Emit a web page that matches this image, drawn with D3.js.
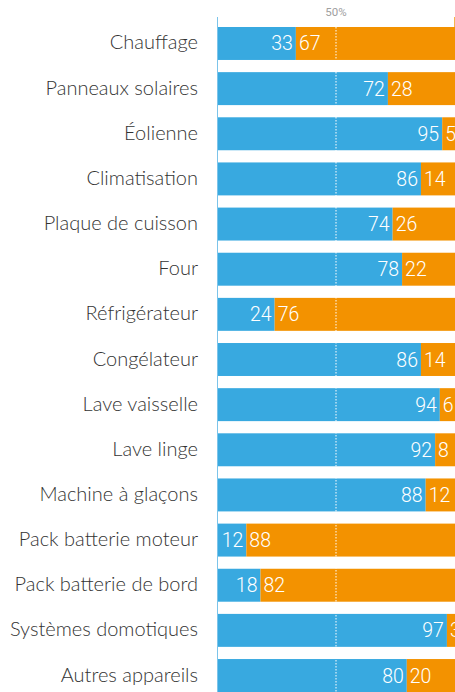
<!DOCTYPE html>
<html>
<head>
<meta charset="utf-8">
<script src="https://cdn.jsdelivr.net/npm/d3@7"></script>
<style>
  body { margin: 0; background: #fff; }
  svg { display: block; }
  .cat { font-family: "Lato Light", "Lato", sans-serif; font-weight: 300; }
  .val { font-family: "Roboto Light", "Roboto", sans-serif; font-weight: 300; }
</style>
</head>
<body>
<svg id="chart"></svg>
<script>
var categories = ["Chauffage", "Panneaux solaires", "Éolienne", "Climatisation", "Plaque de cuisson",
  "Four", "Réfrigérateur", "Congélateur", "Lave vaisselle", "Lave linge", "Machine à glaçons",
  "Pack batterie moteur", "Pack batterie de bord", "Systèmes domotiques", "Autres appareils"];
var blueValues = [33, 72, 95, 86, 74, 78, 24, 86, 94, 92, 88, 12, 18, 97, 80];
var orangeValues = [67, 28, 5, 14, 26, 22, 76, 14, 6, 8, 12, 88, 82, 3, 20];

var width = 455, height = 692;
var plotLeft = 218, plotRight = 454, plotTop = 27;

var svg = d3.select("#chart")
    .attr("width", width)
    .attr("height", height);

var x = d3.scaleLinear()
    .domain([0, 100])
    .range([plotLeft, plotRight]);

var y = d3.scaleBand()
    .domain(categories)
    .range([plotTop, height])
    .paddingInner(0.27)
    .paddingOuter(0);

var rows = svg.selectAll(".row")
    .data(categories)
  .enter().append("g")
    .attr("class", "row");

rows.append("rect")
    .attr("x", x(0))
    .attr("y", d => y(d))
    .attr("width", (d, i) => x(blueValues[i]) - x(0))
    .attr("height", y.bandwidth())
    .attr("fill", "#38a9e0");

rows.append("rect")
    .attr("x", (d, i) => x(blueValues[i]))
    .attr("y", d => y(d))
    .attr("width", (d, i) => x(100) - x(blueValues[i]) + 1)
    .attr("height", y.bandwidth())
    .attr("fill", "#f39200");

// 50% reference line
svg.append("line")
    .attr("x1", x(50)).attr("x2", x(50))
    .attr("y1", plotTop).attr("y2", height)
    .attr("stroke", "#fff")
    .attr("stroke-width", 1)
    .attr("stroke-dasharray", "1.5,1.5");

svg.append("text")
    .attr("x", x(50))
    .attr("y", 16)
    .attr("text-anchor", "middle")
    .attr("font-family", "Roboto")
    .attr("font-size", 11.5)
    .attr("fill", "#a0a0a0")
    .text("50%");

// axis lines
svg.append("line")
    .attr("x1", plotLeft - 0.5).attr("x2", plotLeft - 0.5)
    .attr("y1", 17).attr("y2", height)
    .attr("stroke", "#7cc4ea");

svg.append("line")
    .attr("x1", plotRight + 0.5).attr("x2", plotRight + 0.5)
    .attr("y1", 17).attr("y2", plotTop)
    .attr("stroke", "#f6b44d");

// category labels
rows.append("text")
    .attr("class", "cat")
    .attr("x", 198)
    .attr("y", d => y(d) + y.bandwidth() / 2)
    .attr("dy", "0.3em")
    .attr("text-anchor", "end")
    .attr("font-size", 20)
    .attr("fill", "#333")
    .text(d => d);

// value labels
rows.append("text")
    .attr("class", "val")
    .attr("x", (d, i) => x(blueValues[i]) - 3)
    .attr("y", d => y(d) + y.bandwidth() / 2)
    .attr("dy", "0.36em")
    .attr("text-anchor", "end")
    .attr("font-size", 19.5)
    .attr("fill", "#fff")
    .text((d, i) => blueValues[i]);

rows.append("text")
    .attr("class", "val")
    .attr("x", (d, i) => x(blueValues[i]) + 3)
    .attr("y", d => y(d) + y.bandwidth() / 2)
    .attr("dy", "0.36em")
    .attr("text-anchor", "start")
    .attr("font-size", 19.5)
    .attr("fill", "#fff")
    .text((d, i) => orangeValues[i]);
</script>
</body>
</html>
